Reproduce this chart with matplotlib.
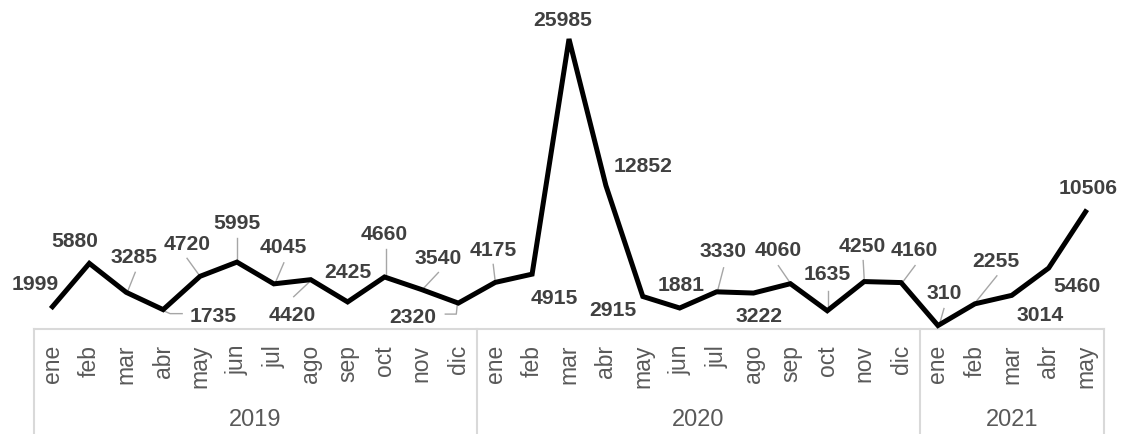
import matplotlib.pyplot as plt
import matplotlib.transforms as mtransforms

plt.rcParams['font.family'] = ['Liberation Sans', 'DejaVu Sans']

months_2019 = ['ene', 'feb', 'mar', 'abr', 'may', 'jun', 'jul', 'ago', 'sep', 'oct', 'nov', 'dic']
months_2020 = ['ene', 'feb', 'mar', 'abr', 'may', 'jun', 'jul', 'ago', 'sep', 'oct', 'nov', 'dic']
months_2021 = ['ene', 'feb', 'mar', 'abr', 'may']
years = ['2019', '2020', '2021']

values_2019 = [1999, 5880, 3285, 1735, 4720, 5995, 4045, 4420, 2425, 4660, 3540, 2320]
values_2020 = [4175, 4915, 25985, 12852, 2915, 1881, 3330, 3222, 4060, 1635, 4250, 4160]
values_2021 = [310, 2255, 3014, 5460, 10506]

months = months_2019 + months_2020 + months_2021
values = values_2019 + values_2020 + values_2021
group_sizes = [len(months_2019), len(months_2020), len(months_2021)]

# label placement, pixels relative to the point (x right, y down)
label_offsets = [
    (-17, -23), (-15, -23), (8, -36), (50, 6), (-13, -33), (0, -40),
    (9, -37), (-18, 35), (0, -30), (0, -43), (17, -32), (-46, 13),
    (-2, -33), (22, 23), (-6, -20), (37, -20), (-30, 13), (1, -24),
    (6, -41), (6, 22), (-12, -34), (0, -37), (-2, -36), (13, -33),
    (6, -33), (21, -43), (28, 19), (28, 17), (3, -24),
]
leaders = {
    2: [(9, -20), (1, 0)],
    3: [(0, 1), (7, 4), (19, 4)],
    4: [(-13, -18), (0, 0)],
    5: [(0, -24), (0, -2)],
    6: [(10, -21), (1, 0)],
    7: [(0, 1), (-17, 17)],
    9: [(1, -28), (1, -1)],
    10: [(17, -17), (1, 0)],
    11: [(-1, 1), (-2, 11), (-13, 11)],
    12: [(-2, -18), (0, -1)],
    18: [(7, -24), (1, -1)],
    20: [(-12, -18), (-1, -2)],
    21: [(1, -20), (1, -2)],
    22: [(-1, -21), (0, -3)],
    23: [(14, -17), (2, -1)],
    24: [(6, -17), (2, -3)],
    25: [(22, -28), (1, -2)],
}

W, H = 1121, 435
fig = plt.figure(figsize=(W / 100, H / 100), dpi=100)
ax_h = 330
ax = fig.add_axes([34 / W, (H - 330) / H, 1070 / W, ax_h / H])

x = list(range(len(values)))
ax.plot(x, values, color='black', lw=3.6, solid_joinstyle='miter', zorder=3, clip_on=False)
ax.set_xlim(-0.5, len(values) - 0.5)
ax.set_ylim(0, 29570)
ax.set_xticks([])
ax.set_yticks([])
for side in ['left', 'right', 'top', 'bottom']:
    ax.spines[side].set_visible(False)

label_color = '#404040'
leader_color = '#a6a6a6'
axis_color = '#d9d9d9'
text_color = '#595959'

for i, v in enumerate(values):
    dx, dy = label_offsets[i]
    ax.annotate(str(v), xy=(i, v), xytext=(dx, -dy), textcoords='offset pixels',
                ha='center', va='center', fontsize=15.2, fontweight='bold',
                color=label_color, zorder=4)
    if i in leaders:
        trans = mtransforms.IdentityTransform() + mtransforms.ScaledTranslation(i, v, ax.transData)
        xs = [p[0] for p in leaders[i]]
        ys = [-p[1] for p in leaders[i]]
        ax.plot(xs, ys, color=leader_color, lw=1.0, transform=trans, clip_on=False, zorder=2)

# category axis: months, then years, with separators
px = 1 / ax_h
ax.plot([-0.5, len(values) - 0.5], [0, 0], color=axis_color, lw=1.5,
        transform=ax.get_xaxis_transform(), clip_on=False, zorder=1)
for i, m in enumerate(months):
    ax.text(i, -15 * px, m, rotation=90, ha='center', va='top', fontsize=16.5,
            color=text_color, transform=ax.get_xaxis_transform())

start = 0
bounds = [-0.5]
for year, n in zip(years, group_sizes):
    ax.text(start + (n - 1) / 2, -90 * px, year, ha='center', va='center', fontsize=17,
            color=text_color, transform=ax.get_xaxis_transform())
    start += n
    bounds.append(start - 0.5)
for b in bounds:
    ax.plot([b, b], [0, -110 * px], color=axis_color, lw=1.5,
            transform=ax.get_xaxis_transform(), clip_on=False, zorder=1)

fig.savefig('out.png', dpi=100)
